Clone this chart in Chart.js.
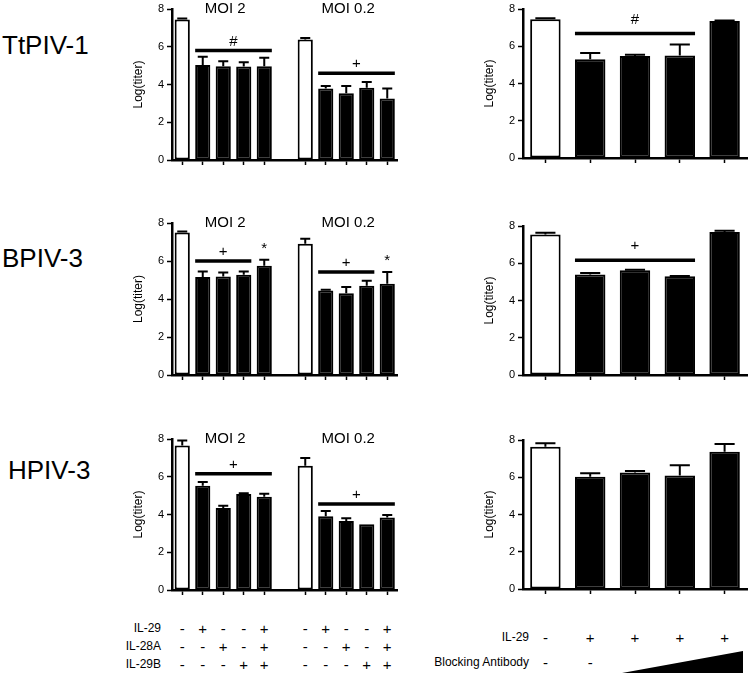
<!DOCTYPE html>
<html>
<head>
<meta charset="utf-8">
<script src="https://cdn.jsdelivr.net/npm/chart.js@4.4.1/dist/chart.umd.min.js"></script>
<style>
  body { margin: 0; width: 750px; height: 683px; position: relative; overflow: hidden; background: #fff;
         font-family: 'Liberation Sans', Arial, sans-serif; color: #000; }
  canvas { position: absolute; }
  .virus { position: absolute; left: 2px; font-size: 26px; line-height: 30px; transform: translateY(-50%); white-space: nowrap; }
  .lab { position: absolute; font-size: 12px; transform: translate(-100%, -50%); white-space: nowrap; }
  .sign { position: absolute; font-size: 15px; transform: translate(-50%, -50%); }
  #wedge { position: absolute; left: 622px; top: 651px; width: 121px; height: 22px; background: #000;
           clip-path: polygon(0 100%, 100% 0, 100% 100%); }
</style>
</head>
<body>
<div class="virus" style="top:45px">TtPIV-1</div>
<div class="virus" style="top:258px">BPIV-3</div>
<div class="virus" style="top:470px; left:8px">HPIV-3</div>
<div id="wedge"></div>

<canvas id="ttLeft"></canvas>
<canvas id="ttRight"></canvas>
<canvas id="bpLeft"></canvas>
<canvas id="bpRight"></canvas>
<canvas id="hpLeft"></canvas>
<canvas id="hpRight"></canvas>

<script>
const FONT = "'Liberation Sans', Arial, sans-serif";
Chart.defaults.font.family = FONT;
Chart.defaults.color = '#000';

// categories
const treatments = ['Control', 'IL-29', 'IL-28A', 'IL-29B', 'IL-29 + IL-28A + IL-29B'];
const leftCategories = treatments.map(t => 'MOI 2 ' + t).concat([''], treatments.map(t => 'MOI 0.2 ' + t));
const rightCategories = ['Control', 'IL-29', 'IL-29 + Ab low', 'IL-29 + Ab mid', 'IL-29 + Ab high'];
const yTicks = [0, 2, 4, 6, 8];

// TtPIV-1
const ttLeftVals = [7.45, 5.03, 4.97, 4.96, 4.97, null, 6.39, 3.79, 3.54, 3.83, 3.26];
const ttLeftErr  = [0.05, 0.44, 0.26, 0.22, 0.45, null, 0.07, 0.13, 0.38, 0.30, 0.53];
const ttRightVals = [7.45, 5.30, 5.47, 5.50, 7.36];
const ttRightErr  = [0.05, 0.34, 0.08, 0.60, 0.02];

// BPIV-3
const bpLeftVals = [7.50, 5.16, 5.19, 5.28, 5.75, null, 6.91, 4.45, 4.30, 4.70, 4.80];
const bpLeftErr  = [0.05, 0.29, 0.21, 0.17, 0.32, null, 0.26, 0.04, 0.33, 0.26, 0.62];
const bpRightVals = [7.54, 5.40, 5.63, 5.30, 7.68];
const bpRightErr  = [0.10, 0.07, 0.02, 0.01, 0.06];

// HPIV-3
const hpLeftVals = [7.66, 5.52, 4.34, 5.08, 4.94, null, 6.58, 3.91, 3.66, 3.49, 3.84];
const hpLeftErr  = [0.26, 0.20, 0.12, 0.05, 0.16, null, 0.41, 0.28, 0.14, 0.00, 0.14];
const hpRightVals = [7.64, 6.03, 6.25, 6.09, 7.37];
const hpRightErr  = [0.18, 0.19, 0.09, 0.55, 0.42];

// significance bars: category range and height (log titer)
const ttLeftSig = [{from: 1, to: 4, y: 5.8, label: '#'}, {from: 7, to: 10, y: 4.59, label: '+'}];
const ttRightSig = [{from: 1, to: 3, y: 6.68, label: '#'}];
const bpLeftSig = [{from: 1, to: 3, y: 6.0, label: '+'}, {from: 7, to: 9, y: 5.42, label: '+'}];
const bpLeftStars = [4, 10];
const bpRightSig = [{from: 1, to: 3, y: 6.16, label: '+'}];
const hpLeftSig = [{from: 1, to: 4, y: 6.16, label: '+'}, {from: 7, to: 10, y: 4.55, label: '+'}];
const moiGroups = [{label: 'MOI 2', from: 0, to: 4}, {label: 'MOI 0.2', from: 6, to: 10}];

// treatment table
const il29 = ['-', '+', '-', '-', '+'];
const il28a = ['-', '-', '+', '-', '+'];
const il29b = ['-', '-', '-', '+', '+'];
const il29Right = ['-', '+', '+', '+', '+'];
const antibodyRight = ['-', '-'];

function annot(vals, errs, extra) {
  return {
    id: 'annot',
    afterDatasetsDraw(chart) {
      const {ctx, chartArea} = chart;
      const x = chart.scales.x, y = chart.scales.y;
      const bars = chart.getDatasetMeta(0).data;
      ctx.save();
      ctx.strokeStyle = '#000';
      ctx.fillStyle = '#000';
      ctx.lineWidth = 2;
      vals.forEach((v, i) => {
        if (v == null || !errs[i]) return;
        const cx = x.getPixelForValue(i);
        const top = y.getPixelForValue(v + errs[i]);
        const half = bars[i].width * 0.33;
        ctx.beginPath();
        ctx.moveTo(cx, y.getPixelForValue(v));
        ctx.lineTo(cx, top);
        ctx.moveTo(cx - half, top);
        ctx.lineTo(cx + half, top);
        ctx.stroke();
      });
      ctx.textAlign = 'center';
      ctx.textBaseline = 'alphabetic';
      ctx.font = '15px ' + FONT;
      (extra.sig || []).forEach(s => {
        const x0 = x.getPixelForValue(s.from) - bars[s.from].width / 2;
        const x1 = x.getPixelForValue(s.to) + bars[s.to].width / 2;
        const yy = y.getPixelForValue(s.y);
        ctx.lineWidth = 3.5;
        ctx.beginPath();
        ctx.moveTo(x0, yy);
        ctx.lineTo(x1, yy);
        ctx.stroke();
        ctx.fillText(s.label, (x0 + x1) / 2, yy - extra.gap);
      });
      (extra.stars || []).forEach(i => {
        const top = y.getPixelForValue(vals[i] + errs[i]);
        ctx.fillText('*', x.getPixelForValue(i), top - 7);
      });
      (extra.groups || []).forEach(g => {
        const cx = (x.getPixelForValue(g.from) + x.getPixelForValue(g.to)) / 2 + 2;
        ctx.fillText(g.label, cx, chartArea.top + 4);
      });
      ctx.restore();
    }
  };
}

function panel(id, labels, vals, errs, box, extra) {
  const cv = document.getElementById(id);
  const left = box.l - 47, top = box.t - 14;
  const w = Math.ceil(box.r - left + 4), h = box.b - top + 12;
  cv.width = w; cv.height = h;
  cv.style.left = left + 'px'; cv.style.top = top + 'px';
  cv.style.width = w + 'px'; cv.style.height = h + 'px';
  const white = extra.white;
  const chart = new Chart(cv, {
    type: 'bar',
    data: {
      labels: labels,
      datasets: [{
        data: vals,
        backgroundColor: vals.map((v, i) => white.includes(i) ? '#fff' : '#000'),
        borderColor: '#000',
        borderWidth: 2,
        borderSkipped: false,
        barPercentage: extra.barPct,
        categoryPercentage: 1
      }]
    },
    options: {
      responsive: false,
      animation: false,
      events: [],
      layout: {padding: {top: 14, right: w - (box.r - left), bottom: 0, left: 0}},
      plugins: {legend: {display: false}, tooltip: {enabled: false}},
      scales: {
        x: {
          offset: true,
          ticks: {display: false, autoSkip: false},
          grid: {
            drawOnChartArea: false, offset: false, tickLength: 5, tickWidth: 1.5,
            tickColor: c => (extra.gap5 && c.index === 5) ? 'rgba(0,0,0,0)' : '#000'
          },
          border: {color: '#000', width: 2.5},
          afterFit: s => { s.height = 12; }
        },
        y: {
          min: 0, max: 8,
          afterBuildTicks: s => { s.ticks = yTicks.map(v => ({value: v})); },
          ticks: {font: {size: 11}, color: '#000', padding: 3},
          grid: {drawOnChartArea: false, tickLength: 5, tickWidth: 1.5, tickColor: '#000'},
          border: {color: '#000', width: 2.5},
          title: {display: true, text: 'Log(titer)', font: {size: 12}, color: '#000', padding: {top: 6, bottom: 0}},
          afterFit: s => { s.width = 47; }
        }
      }
    },
    plugins: [annot(vals, errs, extra)]
  });
  chart.$left = left;
  chart.$top = top;
  return chart;
}

const leftStyle = {white: [0, 6], barPct: 0.74, gap: 5, gap5: true, groups: moiGroups};
const rightStyle = {white: [0], barPct: 0.68, gap: 10};

panel('ttLeft', leftCategories, ttLeftVals, ttLeftErr, {l: 172, t: 9, r: 397.5, b: 160}, Object.assign({sig: ttLeftSig}, leftStyle));
panel('ttRight', rightCategories, ttRightVals, ttRightErr, {l: 523, t: 9, r: 747, b: 158}, Object.assign({sig: ttRightSig}, rightStyle));
panel('bpLeft', leftCategories, bpLeftVals, bpLeftErr, {l: 172, t: 223, r: 397.5, b: 375}, Object.assign({sig: bpLeftSig, stars: bpLeftStars}, leftStyle));
panel('bpRight', rightCategories, bpRightVals, bpRightErr, {l: 523, t: 226, r: 747, b: 375}, Object.assign({sig: bpRightSig}, rightStyle));
const hpL = panel('hpLeft', leftCategories, hpLeftVals, hpLeftErr, {l: 172, t: 439, r: 397.5, b: 590}, Object.assign({sig: hpLeftSig}, leftStyle));
const hpR = panel('hpRight', rightCategories, hpRightVals, hpRightErr, {l: 523, t: 440, r: 747, b: 589}, rightStyle);

function addText(cls, text, x, y) {
  const d = document.createElement('div');
  d.className = cls;
  d.textContent = text;
  d.style.left = x + 'px';
  d.style.top = y + 'px';
  document.body.appendChild(d);
}

// table under the left panels, columns follow the bar positions
const leftRows = [['IL-29', il29, 628], ['IL-28A', il28a, 646], ['IL-29B', il29b, 664]];
leftRows.forEach(([name, signs, yy]) => {
  addText('lab', name, 161, yy);
  signs.concat([''], signs).forEach((s, i) => {
    if (!s) return;
    addText('sign', s, hpL.$left + hpL.scales.x.getPixelForValue(i), yy);
  });
});

addText('lab', 'IL-29', 529, 637);
il29Right.forEach((s, i) => addText('sign', s, hpR.$left + hpR.scales.x.getPixelForValue(i), 637));
addText('lab', 'Blocking Antibody', 529, 662);
antibodyRight.forEach((s, i) => addText('sign', s, hpR.$left + hpR.scales.x.getPixelForValue(i), 662));
</script>
</body>
</html>
